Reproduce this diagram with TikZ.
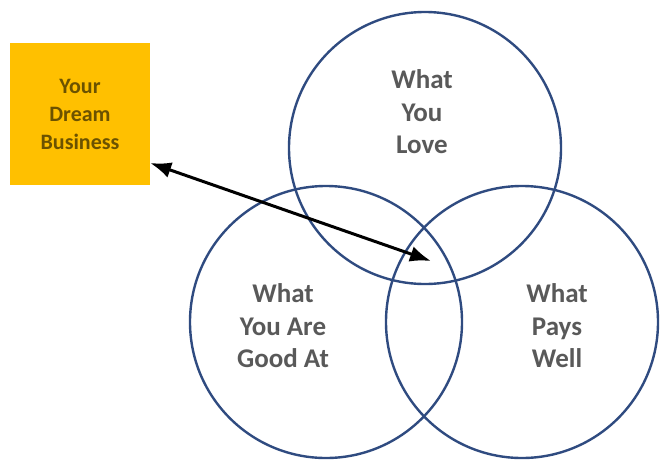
\documentclass[tikz,border=0pt]{standalone}
\usepackage{fontspec}
\setmainfont{Carlito}
\usetikzlibrary{arrows.meta}
\definecolor{ringblue}{HTML}{2F4B80}
\definecolor{gold}{HTML}{FFC000}
\definecolor{goldtext}{HTML}{6B5200}
\definecolor{labelgray}{HTML}{595959}
\tikzset{
  ring/.style={draw=ringblue, line width=2.4pt, circle, minimum size=272pt, inner sep=0pt},
  ringlabel/.style={text=labelgray, font=\bfseries\fontsize{27}{32.5}\selectfont, align=center},
  dreambox/.style={fill=gold, minimum width=140pt, minimum height=142pt, inner sep=0pt,
    text=goldtext, font=\bfseries\fontsize{22}{28}\selectfont, align=center},
  link/.style={draw=black, line width=3pt, {Latex[length=21pt,width=16pt]}-{Latex[length=21pt,width=16pt]}}
}
\begin{document}
\begin{tikzpicture}[x=1pt,y=-1pt]
\useasboundingbox (0,0) rectangle (660,464);
\node[ring] (love) at (425,148) {};
\node[ring] (good) at (326,322) {};
\node[ring] (pays) at (522,322) {};
\node[ringlabel] (lovet) at (422,112) {What\\You\\Love};
\node[ringlabel] (goodt) at (283,326) {What\\You Are\\Good At};
\node[ringlabel] (payst) at (557,326) {What\\Pays\\Well};
\node[dreambox] (dream) at (80,114) {Your\\Dream\\Business};
\coordinate (center) at (431,261);
\draw[link] (dream.east |- 0,163) -- (center);
\end{tikzpicture}
\end{document}
